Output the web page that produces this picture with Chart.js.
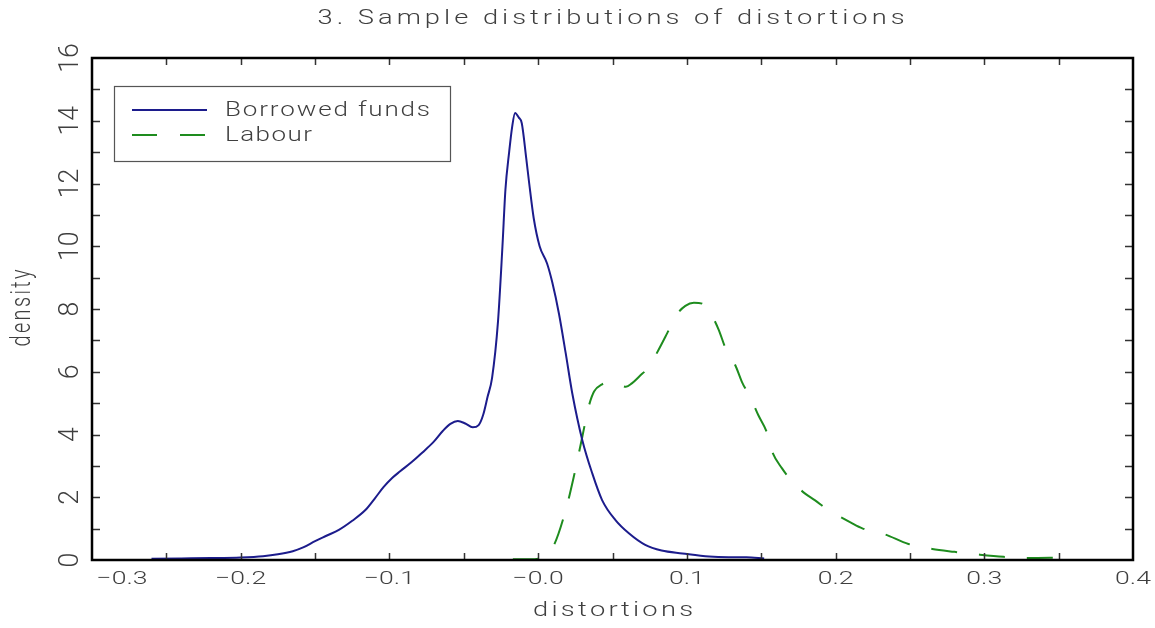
<!DOCTYPE html>
<html>
<head>
<meta charset="utf-8">
<script src="https://cdn.jsdelivr.net/npm/chart.js@4.4.0/dist/chart.umd.min.js"></script>
<style>
  html, body { margin: 0; padding: 0; background: #fff; }
  #wrap { width: 1155px; height: 628px; }
</style>
</head>
<body>
<div id="wrap"><canvas id="chart" width="1155" height="628"></canvas></div>
<script>
const title = '3. Sample distributions of distortions'
const xTitle = 'distortions'
const yTitle = 'density'

const xTickValues = [-0.3, -0.2, -0.1, 0, 0.1, 0.2, 0.3, 0.4]
const xTickLabels = ['\u22120.3', '\u22120.2', '\u22120.1', '\u22120.0', '0.1', '0.2', '0.3', '0.4']
const yTickValues = [0, 2, 4, 6, 8, 10, 12, 14, 16]
const yTickLabels = ['0', '2', '4', '6', '8', '10', '12', '14', '16']

const borrowedX = [
  -0.260, -0.240, -0.220, -0.200, -0.185, -0.175, -0.165, -0.158, -0.150, -0.142,
  -0.134, -0.125, -0.116, -0.110, -0.104, -0.098, -0.093, -0.085, -0.078, -0.070,
  -0.064, -0.059, -0.054, -0.049, -0.044, -0.040, -0.037, -0.034, -0.031, -0.027,
  -0.024, -0.022, -0.0195, -0.0175, -0.0155, -0.013, -0.011, -0.008, -0.006, -0.003,
  0.001, 0.006, 0.0095, 0.014, 0.0185, 0.023, 0.0297, 0.0364, 0.043, 0.052,
  0.061, 0.072, 0.083, 0.097, 0.115, 0.128, 0.140, 0.152
]
const borrowedY = [
  0.04, 0.05, 0.06, 0.08, 0.12, 0.18, 0.28, 0.40, 0.60, 0.78,
  0.96, 1.25, 1.60, 1.95, 2.32, 2.62, 2.82, 3.12, 3.42, 3.78,
  4.12, 4.34, 4.43, 4.35, 4.23, 4.30, 4.62, 5.20, 5.80, 7.60,
  10.00, 11.80, 13.00, 13.80, 14.25, 14.10, 13.92, 12.80, 12.00, 10.90,
  10.00, 9.45, 8.85, 7.85, 6.60, 5.30, 3.82, 2.76, 1.91, 1.27,
  0.85, 0.48, 0.30, 0.21, 0.11, 0.09, 0.09, 0.05
]

const labourX = [
  -0.017, -0.005, 0.000, 0.005, 0.0107, 0.0186, 0.024, 0.0297, 0.034, 0.0376,
  0.043, 0.049, 0.054, 0.059, 0.063, 0.068, 0.0745, 0.081, 0.0868, 0.093,
  0.099, 0.1047, 0.111, 0.116, 0.1215, 0.126, 0.133, 0.137, 0.143, 0.148,
  0.154, 0.157, 0.164, 0.172, 0.180, 0.186, 0.195, 0.201, 0.210, 0.218,
  0.233, 0.249, 0.265, 0.280, 0.297, 0.313, 0.328, 0.344, 0.352
]
const labourY = [
  0.02, 0.02, 0.04, 0.15, 0.48, 1.60, 2.66, 3.93, 4.89, 5.37,
  5.60, 5.68, 5.60, 5.52, 5.63, 5.85, 6.16, 6.70, 7.23, 7.81,
  8.10, 8.20, 8.16, 7.86, 7.33, 6.75, 6.16, 5.68, 5.15, 4.62,
  4.04, 3.50, 2.92, 2.44, 2.10, 1.91, 1.59, 1.43, 1.20, 1.01,
  0.82, 0.51, 0.35, 0.26, 0.17, 0.10, 0.06, 0.07, 0.06
]

const BLUE = '#1c1c8c'
const GREEN = '#1e8c1e'
const INK = '#3f3f3f'
const FONT = 'Roboto, "DejaVu Sans", sans-serif'

const toPoints = (xs, ys) => xs.map((x, i) => ({ x, y: ys[i] }))

// text drawn glyph by glyph so it can be stretched and spaced like the plot
const drawText = (ctx, str, cx, cy, o) => {
  const size = o.size
  const sx = o.sx || 1
  const sy = o.sy || 1
  ctx.save()
  ctx.translate(cx, cy)
  if (o.rot) ctx.rotate(o.rot)
  ctx.font = `300 ${size}px ${FONT}`
  ctx.fillStyle = INK
  ctx.textBaseline = 'middle'
  ctx.textAlign = 'left'
  const chars = [...str]
  const ws = chars.map(c => ctx.measureText(c).width * sx)
  const natural = ws.reduce((a, b) => a + b, 0)
  const total = o.width || natural
  const gap = chars.length > 1 ? (total - natural) / (chars.length - 1) : 0
  let x = -total / 2 + (o.shift || 0)
  chars.forEach((c, i) => {
    ctx.save()
    ctx.translate(x, 0)
    ctx.scale(sx, sy)
    ctx.fillText(c, 0, 0)
    ctx.restore()
    x += ws[i] + gap
  })
  ctx.restore()
}

const framePlugin = {
  id: 'frame',
  afterDatasetsDraw (chart) {
    const ctx = chart.ctx
    const a = chart.chartArea
    const xs = chart.scales.x
    const ys = chart.scales.y

    // inner tick marks on all four sides
    ctx.save()
    ctx.strokeStyle = '#333'
    ctx.lineWidth = 1.5
    ctx.beginPath()
    for (let i = 1; i < 14; i++) {
      const px = Math.round(xs.getPixelForValue(-0.3 + i * 0.05)) + 0.5
      ctx.moveTo(px, a.bottom); ctx.lineTo(px, a.bottom - 7)
      ctx.moveTo(px, a.top); ctx.lineTo(px, a.top + 7)
    }
    for (let v = 1; v < 16; v++) {
      const py = Math.round(ys.getPixelForValue(v)) + 0.5
      ctx.moveTo(a.left, py); ctx.lineTo(a.left + 8, py)
      ctx.moveTo(a.right, py); ctx.lineTo(a.right - 8, py)
    }
    ctx.stroke()

    ctx.strokeStyle = '#000'
    ctx.lineWidth = 2.5
    ctx.strokeRect(a.left, a.top, a.right - a.left, a.bottom - a.top)
    ctx.restore()

    // tick labels, the first one is pushed inside like in the source plot
    xTickValues.forEach((v, i) => {
      drawText(ctx, xTickLabels[i], xs.getPixelForValue(v), 579, { size: 19, sx: 1.4, shift: i === 0 ? 30 : 0 })
    })
    yTickValues.forEach((v, i) => {
      drawText(ctx, yTickLabels[i], 71, ys.getPixelForValue(v), { size: 20, sx: 1.33, sy: 1.4, rot: -Math.PI / 2 })
    })

    // titles
    drawText(ctx, title, 611, 19, { size: 21, sx: 1.3, width: 587 })
    drawText(ctx, xTitle, 613, 611, { size: 21, sx: 1.3, width: 160 })
    drawText(ctx, yTitle, 23, 308, { size: 20, sy: 1.4, width: 77, rot: -Math.PI / 2 })

    // legend box
    ctx.save()
    ctx.fillStyle = '#fff'
    ctx.fillRect(114, 86, 336, 75)
    ctx.strokeStyle = '#555'
    ctx.lineWidth = 1.2
    ctx.strokeRect(114.5, 86.5, 336, 75)
    const ds = chart.data.datasets
    const rows = [110, 135]
    const widths = [205, 87]
    ds.forEach((d, i) => {
      ctx.strokeStyle = d.borderColor
      ctx.lineWidth = d.borderWidth
      ctx.setLineDash(i === 1 ? [25, 23] : [])
      ctx.beginPath()
      ctx.moveTo(132, rows[i]); ctx.lineTo(207, rows[i])
      ctx.stroke()
      ctx.setLineDash([])
      const w = widths[i]
      drawText(ctx, d.label, 225 + w / 2, rows[i] + 1, { size: 20, sx: 1.3, width: w })
    })
    ctx.restore()
  }
}

const chart = new Chart(document.getElementById('chart'), {
  type: 'line',
  data: {
    datasets: [
      {
        label: 'Borrowed funds',
        data: toPoints(borrowedX, borrowedY),
        borderColor: BLUE,
        borderWidth: 2,
        pointRadius: 0,
        cubicInterpolationMode: 'monotone',
        fill: false
      },
      {
        label: 'Labour',
        data: toPoints(labourX, labourY),
        borderColor: GREEN,
        borderWidth: 2,
        borderDash: [26, 22],
        pointRadius: 0,
        cubicInterpolationMode: 'monotone',
        fill: false
      }
    ]
  },
  options: {
    responsive: false,
    animation: false,
    devicePixelRatio: 1,
    layout: { padding: { top: 58, right: 22, left: 0, bottom: 0 } },
    plugins: {
      legend: { display: false },
      title: { display: false },
      tooltip: { enabled: false }
    },
    scales: {
      x: {
        type: 'linear',
        min: -0.3,
        max: 0.4,
        ticks: { display: false, stepSize: 0.05 },
        grid: { display: false },
        border: { display: false },
        afterFit: s => { s.height = 68 }
      },
      y: {
        min: 0,
        max: 16,
        ticks: { display: false, stepSize: 1 },
        grid: { display: false },
        border: { display: false },
        afterFit: s => { s.width = 92 }
      }
    }
  },
  plugins: [framePlugin]
})
</script>
</body>
</html>
